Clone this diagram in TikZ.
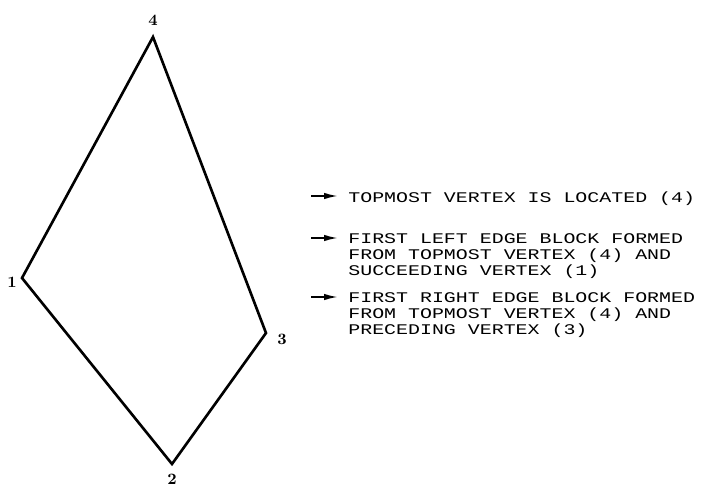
\documentclass[tikz,border=0pt]{standalone}
\usepackage{fontspec}
\setmonofont[FakeStretch=1.35]{Liberation Mono}
\usetikzlibrary{positioning}
\usetikzlibrary{arrows.meta}

\begin{document}
\begin{tikzpicture}[
    x=0.02cm, y=-0.02cm,
    edge/.style={line width=1.5pt, line join=miter},
    vlabel/.style={font=\small\bfseries, inner sep=1pt},
    legendarrow/.style={line width=1pt, -{Latex[length=2.8mm,width=1.3mm]}},
    item/.style={font=\ttfamily\fontsize{8.4}{9.2}\selectfont, align=left, inner sep=0pt, anchor=north west}
]
    \useasboundingbox (0,0) rectangle (705,486);

    % Polygon vertices
    \coordinate (v1) at (22,278);
    \coordinate (v2) at (172,464);
    \coordinate (v3) at (266,333);
    \coordinate (v4) at (153,37);
    \draw[edge] (v1) -- (v2) -- (v3) -- (v4) -- cycle;

    % Vertex numbers
    \node[vlabel] (n1) at (12,282) {1};
    \node[vlabel] (n2) at (172,479) {2};
    \node[vlabel] (n3) at (282,339) {3};
    \node[vlabel] (n4) at (153,20) {4};

    % Legend
    \node[item] (t1) at (348,191) {TOPMOST VERTEX IS LOCATED (4)};
    \node[item] (t2) at (348,233) {FIRST LEFT EDGE BLOCK FORMED\\FROM TOPMOST VERTEX (4) AND\\SUCCEEDING VERTEX (1)};
    \node[item] (t3) at (348,292) {FIRST RIGHT EDGE BLOCK FORMED\\FROM TOPMOST VERTEX (4) AND\\PRECEDING VERTEX (3)};

    \coordinate (s1) at (311,196);
    \coordinate (e1) at (338,196);
    \coordinate (s2) at (311,238);
    \coordinate (e2) at (338,238);
    \coordinate (s3) at (311,297);
    \coordinate (e3) at (338,297);
    \draw[legendarrow] (s1) -- (e1);
    \draw[legendarrow] (s2) -- (e2);
    \draw[legendarrow] (s3) -- (e3);
\end{tikzpicture}
\end{document}
